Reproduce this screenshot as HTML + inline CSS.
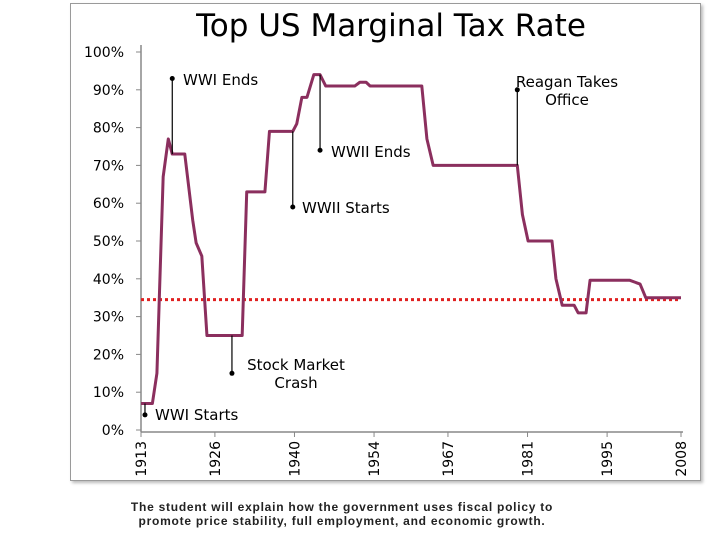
<!DOCTYPE html>
<html><head><meta charset="utf-8"><style>
body{margin:0;width:720px;height:540px;background:#fff;font-family:"Liberation Sans",sans-serif;overflow:hidden}
#frame{position:absolute;left:70px;top:3px;width:629px;height:476px;border:1px solid #9a9a9a;box-shadow:2px 2px 3px #bbb;background:#fff}
#cap{position:absolute;left:0;width:684px;top:500px;text-align:center;font:bold 12px "Liberation Sans",sans-serif;letter-spacing:0.75px;line-height:14px;color:#222}
svg text{font-family:"DejaVu Sans","Liberation Sans",sans-serif}
</style></head><body>
<div id="frame"></div>
<svg id="chart" width="720" height="540" style="position:absolute;left:0;top:0">
<text x="391" y="36" text-anchor="middle" font-size="31" style="font-family:'DejaVu Sans',sans-serif" fill="#000">Top US Marginal Tax Rate</text>
<g id="axes"></g><g id="marks"></g><g id="notes"></g>
</svg>
<div id="cap">The student will explain how the government uses fiscal policy to<br>promote price stability, full employment, and economic growth.</div>
<script>
const years=[1913,1915,1915.8,1916.9,1917.8,1918.5,1920.7,1922.1,1922.7,1923.7,1924.6,1930.8,1931.6,1934.8,1935.6,1939.7,1940.4,1941.3,1942.2,1943.4,1944.5,1945.5,1950.6,1951.5,1952.6,1953.3,1962.4,1963.3,1964.4,1979.2,1980.1,1981.1,1985.3,1986,1987.1,1989.2,1989.9,1991.3,1992,1999,2000.8,2001.8,2008];
const rates=[7,7,15,67,77,73,73,55.5,49.5,46,25,25,63,63,79,79,81,88,88,94,94,91,91,92,92,91,91,77,70,70,57,50,50,40,33,33,31,31,39.6,39.6,38.6,35,35];
const avgRate=[34.5];
const xTicks=["1913","1926","1940","1954","1967","1981","1995","2008"];
const xTickYears=[1913,1926,1940,1954,1967,1981,1995,2008];
const yTicks=[0,10,20,30,40,50,60,70,80,90,100];
const notes=[{t:["WWI Ends"],yr:1918.5,dot:93,end:73,tx:183,ty:85,a:"start"},
{t:["WWII Ends"],yr:1944.5,dot:74,end:94,tx:331,ty:157,a:"start"},
{t:["WWII Starts"],yr:1939.7,dot:59,end:79,tx:302,ty:213,a:"start"},
{t:["Reagan Takes","Office"],yr:1979.2,dot:90,end:70,tx:567,ty:87,a:"middle"},
{t:["Stock Market","Crash"],yr:1929,dot:15,end:25,tx:296,ty:370,a:"middle"},
{t:["WWI Starts"],yr:1913.7,dot:4,end:7,tx:155,ty:420,a:"start"}];
const X=y=>141+(y-1913)*540/95, Y=v=>430-v*3.78;
const NS="http://www.w3.org/2000/svg";
function mk(p,tag,at){const e=document.createElementNS(NS,tag);for(const k in at)e.setAttribute(k,at[k]);p.appendChild(e);return e;}
const ax=document.getElementById('axes'),mg=document.getElementById('marks'),ng=document.getElementById('notes');
let e=mk(ax,'line',{x1:141,y1:45,x2:141,y2:432,stroke:'#888','stroke-width':1.5});

e=mk(ax,'line',{x1:141,y1:432,x2:683,y2:432,stroke:'#888','stroke-width':1.5});

yTicks.forEach(v=>{mk(ax,'line',{x1:136,y1:Y(v),x2:141,y2:Y(v),stroke:'#888'});
const t=mk(ax,'text',{x:124,y:Y(v)+5,'text-anchor':'end','font-size':14,fill:'#000'});t.textContent=v+'%';
});
xTicks.forEach((s,i)=>{const x=X(xTickYears[i]);mk(ax,'line',{x1:x,y1:432,x2:x,y2:437,stroke:'#888'});
const t=mk(ax,'text',{x:0,y:0,'text-anchor':'end','font-size':14,fill:'#000',transform:`translate(${x+5},441) rotate(-90)`});t.textContent=s;
});
e=mk(mg,'line',{x1:X(1913),y1:Y(avgRate[0]),x2:X(2008),y2:Y(avgRate[0]),stroke:'#e02020','stroke-width':3,'stroke-dasharray':'3 3'});

e=mk(mg,'polyline',{points:years.map((y,i)=>X(y)+','+Y(rates[i])).join(' '),fill:'none',stroke:'#8b2f5e','stroke-width':3,'stroke-linejoin':'round'});

notes.forEach(n=>{const x=X(n.yr);
const g=mk(ng,'g',{});
mk(g,'line',{x1:x,y1:Y(n.dot),x2:x,y2:Y(n.end),stroke:'#000','stroke-width':1.2});
mk(g,'circle',{cx:x,cy:Y(n.dot),r:2.5,fill:'#000'});
n.t.forEach((s,i)=>{const t=mk(g,'text',{x:n.tx,y:n.ty+i*18,'text-anchor':n.a,'font-size':15,fill:'#000'});t.textContent=s;});});
</script>
</body></html>
